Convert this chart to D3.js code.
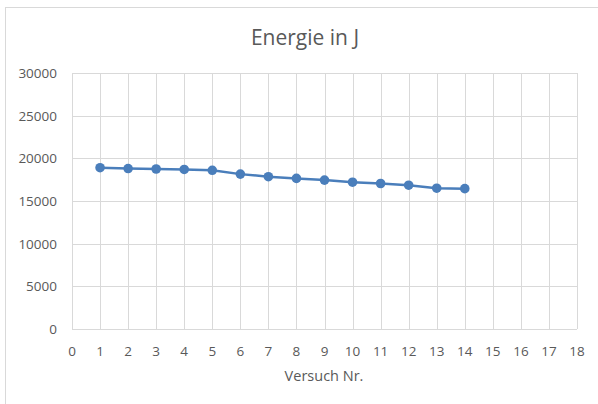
<!DOCTYPE html>
<html><head><meta charset="utf-8">
<script src="https://cdn.jsdelivr.net/npm/d3@7"></script>
<style>body{margin:0;background:#fff}svg{display:block}text{font-family:"Open Sans",sans-serif;fill:#595959}</style>
</head><body><svg id="c" width="598" height="404"></svg>
<script>
const versuch = [1,2,3,4,5,6,7,8,9,10,11,12,13,14];
const energie = [18900,18800,18750,18700,18600,18150,17850,17650,17450,17200,17050,16850,16500,16450];
const xTicks = d3.range(0,19);
const yTicks = [0,5000,10000,15000,20000,25000,30000];
const title = "Energie in J";
const xTitle = "Versuch Nr.";

const svg = d3.select("#c");
svg.append("rect").attr("x",5.5).attr("y",7.5).attr("width",640).attr("height",460)
  .attr("fill","#fff").attr("stroke","#d9d9d9").attr("stroke-width",1);

const x = d3.scaleLinear().domain([0,18]).range([72,577]);
const y = d3.scaleLinear().domain([0,30000]).range([329,73]);

const g = svg.append("g");
g.selectAll(".gy").data(yTicks).join("line")
  .attr("x1",x(0)).attr("x2",x(18)).attr("y1",d=>Math.round(y(d))+0.5).attr("y2",d=>Math.round(y(d))+0.5)
  .attr("stroke","#d9d9d9");
g.selectAll(".gx").data(xTicks).join("line")
  .attr("y1",y(0)).attr("y2",y(30000)).attr("x1",d=>Math.round(x(d))+0.5).attr("x2",d=>Math.round(x(d))+0.5)
  .attr("stroke","#d9d9d9");

g.selectAll(".ty").data(yTicks).join("text")
  .attr("x",57).attr("y",d=>y(d)+5).attr("text-anchor","end").attr("font-size",13.5).text(d=>d);
g.selectAll(".tx").data(xTicks).join("text")
  .attr("x",d=>x(d)).attr("y",356).attr("text-anchor","middle").attr("font-size",13.5).text(d=>d);

svg.append("text").attr("x",305).attr("y",45).attr("text-anchor","middle").attr("font-size",21).text(title);
svg.append("text").attr("x",324).attr("y",381).attr("text-anchor","middle").attr("font-size",14.5).text(xTitle);

const pts = versuch.map((v,i)=>[v,energie[i]]);
svg.append("path").datum(pts).attr("fill","none").attr("stroke","#4a7ebb").attr("stroke-width",2.5)
  .attr("d",d3.line().x(d=>x(d[0])).y(d=>y(d[1])));
svg.selectAll(".pt").data(pts).join("circle")
  .attr("cx",d=>x(d[0])).attr("cy",d=>y(d[1])).attr("r",4.8).attr("fill","#4a7ebb");
</script></body></html>
